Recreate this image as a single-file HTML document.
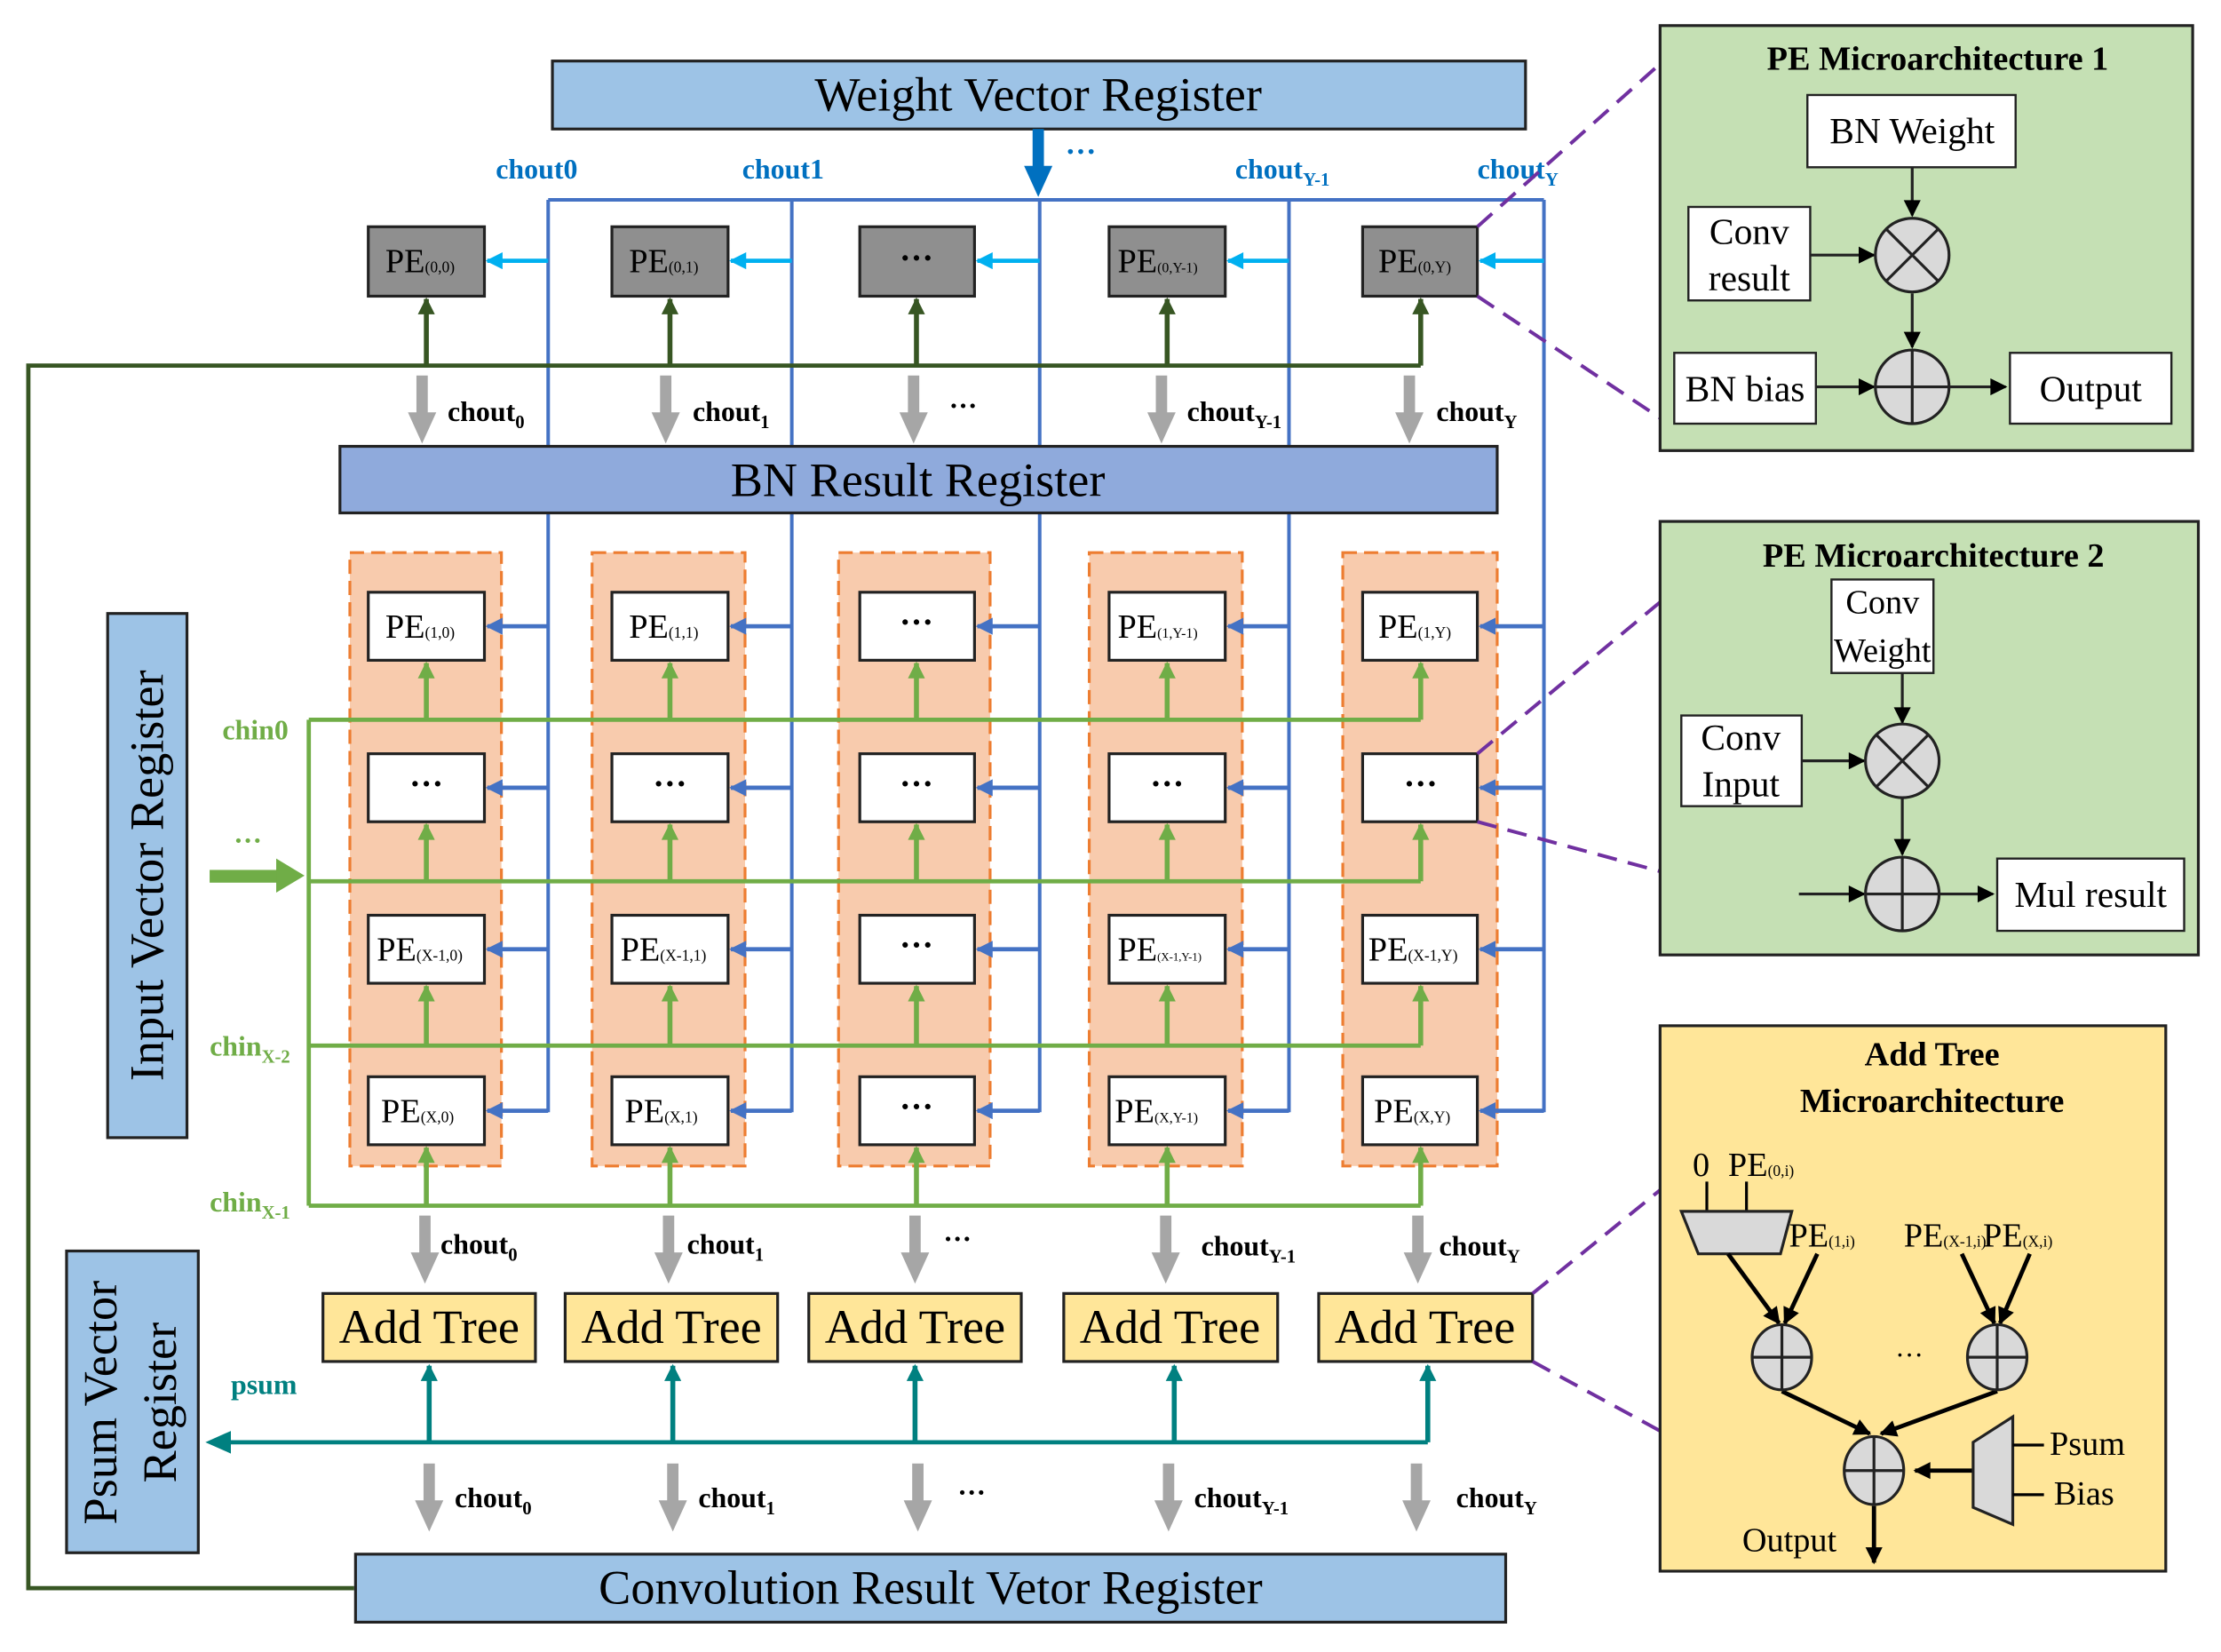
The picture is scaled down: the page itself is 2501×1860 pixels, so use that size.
<!DOCTYPE html>
<html><head><meta charset="utf-8"><style>
html,body{margin:0;padding:0;background:#fff}
svg{display:block}
text{font-family:"Liberation Serif",serif}
</style></head><body>
<svg width="2501" height="1860" viewBox="0 0 1568 1166" xmlns="http://www.w3.org/2000/svg">
<defs>
<marker id="mlb" viewBox="0 0 10 10" refX="9" refY="5" markerWidth="14" markerHeight="12" orient="auto" markerUnits="userSpaceOnUse"><path d="M0,0L10,5L0,10z" fill="#00b0f0"/></marker>
<marker id="mbb" viewBox="0 0 10 10" refX="9" refY="5" markerWidth="14" markerHeight="12" orient="auto" markerUnits="userSpaceOnUse"><path d="M0,0L10,5L0,10z" fill="#4472c4"/></marker>
<marker id="mg" viewBox="0 0 10 10" refX="9" refY="5" markerWidth="14" markerHeight="12" orient="auto" markerUnits="userSpaceOnUse"><path d="M0,0L10,5L0,10z" fill="#70ad47"/></marker>
<marker id="mdg" viewBox="0 0 10 10" refX="9" refY="5" markerWidth="14" markerHeight="12" orient="auto" markerUnits="userSpaceOnUse"><path d="M0,0L10,5L0,10z" fill="#375623"/></marker>
<marker id="mt" viewBox="0 0 10 10" refX="9" refY="5" markerWidth="14" markerHeight="12" orient="auto" markerUnits="userSpaceOnUse"><path d="M0,0L10,5L0,10z" fill="#008080"/></marker>
<marker id="mk" viewBox="0 0 10 10" refX="9" refY="5" markerWidth="14" markerHeight="12" orient="auto" markerUnits="userSpaceOnUse"><path d="M0,0L10,5L0,10z" fill="#000"/></marker>
<g id="gray"><rect x="-4" y="0" width="8" height="28" fill="#a6a6a6"/><path d="M-10,26L10,26L0,48z" fill="#a6a6a6"/></g>
</defs>

<rect x="390" y="43" width="687" height="48" fill="#9dc3e6" stroke="#222" stroke-width="2"/>
<text x="733" y="78" font-size="34" text-anchor="middle">Weight Vector Register</text>
<rect x="729" y="91" width="8" height="28" fill="#0070c0"/><path d="M723,117L743,117L733,139z" fill="#0070c0"/>
<text x="752" y="114" font-size="22" font-weight="bold" fill="#0070c0">···</text>
<g font-size="20" font-weight="bold" fill="#0070c0">
<text x="350" y="126">chout0</text><text x="524" y="126">chout1</text>
<text x="872" y="126">chout<tspan font-size="13" dy="5">Y-1</tspan></text>
<text x="1043" y="126">chout<tspan font-size="13" dy="5">Y</tspan></text>
</g>

<g fill="#f8cbad" stroke="#ed7d31" stroke-width="2" stroke-dasharray="10,5">
<rect x="247" y="390" width="107" height="433"/><rect x="418" y="390" width="108" height="433"/>
<rect x="592" y="390" width="107" height="433"/><rect x="769" y="390" width="108" height="433"/>
<rect x="948" y="390" width="109" height="433"/>
</g>

<g stroke="#4472c4" stroke-width="2.5" fill="none">
<path d="M387,141H1090"/>
<path d="M387,141V785M559,141V785M734,141V785M910,141V785M1090,141V785"/>
</g>
<g stroke="#00b0f0" stroke-width="3" marker-end="url(#mlb)">
<path d="M387,184H344"/><path d="M559,184H516"/><path d="M734,184H690"/><path d="M910,184H867"/><path d="M1090,184H1045"/>
</g>
<g stroke="#4472c4" stroke-width="3" marker-end="url(#mbb)">
<path d="M387,442H344"/><path d="M559,442H516"/><path d="M734,442H690"/><path d="M910,442H867"/><path d="M1090,442H1045"/>
<path d="M387,556H344"/><path d="M559,556H516"/><path d="M734,556H690"/><path d="M910,556H867"/><path d="M1090,556H1045"/>
<path d="M387,670H344"/><path d="M559,670H516"/><path d="M734,670H690"/><path d="M910,670H867"/><path d="M1090,670H1045"/>
<path d="M387,784H344"/><path d="M559,784H516"/><path d="M734,784H690"/><path d="M910,784H867"/><path d="M1090,784H1045"/>
</g>

<g stroke="#375623" stroke-width="3" fill="none">
<path d="M250,1121H20V258H1003"/>
</g>
<g stroke="#375623" stroke-width="3.5" marker-end="url(#mdg)">
<path d="M301,258V211"/><path d="M473,258V211"/><path d="M647,258V211"/><path d="M824,258V211"/><path d="M1003,258V211"/>
</g>

<g fill="#8f8f8f" stroke="#222" stroke-width="2">
<rect x="260" y="160" width="82" height="49"/><rect x="432" y="160" width="82" height="49"/><rect x="607" y="160" width="81" height="49"/><rect x="783" y="160" width="82" height="49"/><rect x="962" y="160" width="81" height="49"/>
</g>
<g font-size="24">
<text x="272" y="192">PE<tspan font-size="11">(0,0)</tspan></text>
<text x="444" y="192">PE<tspan font-size="11">(0,1)</tspan></text>
<text x="647" y="190" text-anchor="middle" font-weight="bold">···</text>
<text x="789" y="192">PE<tspan font-size="10">(0,Y-1)</tspan></text>
<text x="973" y="192">PE<tspan font-size="11">(0,Y)</tspan></text>
</g>

<use href="#gray" x="298" y="265"/><use href="#gray" x="470" y="265"/><use href="#gray" x="645" y="265"/><use href="#gray" x="820" y="265"/><use href="#gray" x="995" y="265"/>
<g font-size="20" font-weight="bold">
<text x="316" y="297">chout<tspan font-size="13" dy="5">0</tspan></text>
<text x="489" y="297">chout<tspan font-size="13" dy="5">1</tspan></text>
<text x="670" y="293">···</text>
<text x="838" y="297">chout<tspan font-size="13" dy="5">Y-1</tspan></text>
<text x="1014" y="297">chout<tspan font-size="13" dy="5">Y</tspan></text>
</g>

<rect x="240" y="315" width="817" height="47" fill="#8faadc" stroke="#222" stroke-width="2"/>
<text x="648" y="350" font-size="34" text-anchor="middle">BN Result Register</text>

<g stroke="#70ad47" stroke-width="3" fill="none">
<path d="M218,508H1003M218,622H1003M218,738H1003M218,851H1003M218,508V851"/>
</g>
<g stroke="#70ad47" stroke-width="3.5" marker-end="url(#mg)">
<path d="M301,508V468"/><path d="M473,508V468"/><path d="M647,508V468"/><path d="M824,508V468"/><path d="M1003,508V468"/>
<path d="M301,622V582"/><path d="M473,622V582"/><path d="M647,622V582"/><path d="M824,622V582"/><path d="M1003,622V582"/>
<path d="M301,738V696"/><path d="M473,738V696"/><path d="M647,738V696"/><path d="M824,738V696"/><path d="M1003,738V696"/>
<path d="M301,851V810"/><path d="M473,851V810"/><path d="M647,851V810"/><path d="M824,851V810"/><path d="M1003,851V810"/>
</g>
<rect x="148" y="614" width="50" height="9" fill="#70ad47"/><path d="M195,606L215,618L195,630z" fill="#70ad47"/>
<text x="165" y="600" font-size="20" font-weight="bold" fill="#70ad47">···</text>
<g font-size="20" font-weight="bold" fill="#70ad47">
<text x="157" y="522">chin0</text>
<text x="148" y="745">chin<tspan font-size="13" dy="5">X-2</tspan></text>
<text x="148" y="855">chin<tspan font-size="13" dy="5">X-1</tspan></text>
</g>

<g fill="#fff" stroke="#222" stroke-width="2">
<rect x="260" y="418" width="82" height="48"/><rect x="432" y="418" width="82" height="48"/><rect x="607" y="418" width="81" height="48"/><rect x="783" y="418" width="82" height="48"/><rect x="962" y="418" width="81" height="48"/>
<rect x="260" y="532" width="82" height="48"/><rect x="432" y="532" width="82" height="48"/><rect x="607" y="532" width="81" height="48"/><rect x="783" y="532" width="82" height="48"/><rect x="962" y="532" width="81" height="48"/>
<rect x="260" y="646" width="82" height="48"/><rect x="432" y="646" width="82" height="48"/><rect x="607" y="646" width="81" height="48"/><rect x="783" y="646" width="82" height="48"/><rect x="962" y="646" width="81" height="48"/>
<rect x="260" y="760" width="82" height="48"/><rect x="432" y="760" width="82" height="48"/><rect x="607" y="760" width="81" height="48"/><rect x="783" y="760" width="82" height="48"/><rect x="962" y="760" width="81" height="48"/>
</g>
<g font-size="24">
<text x="272" y="450">PE<tspan font-size="11">(1,0)</tspan></text>
<text x="444" y="450">PE<tspan font-size="11">(1,1)</tspan></text>
<text x="647" y="447" text-anchor="middle" font-weight="bold">···</text>
<text x="789" y="450">PE<tspan font-size="10">(1,Y-1)</tspan></text>
<text x="973" y="450">PE<tspan font-size="11">(1,Y)</tspan></text>
<text x="301" y="561" text-anchor="middle" font-weight="bold">···</text>
<text x="473" y="561" text-anchor="middle" font-weight="bold">···</text>
<text x="647" y="561" text-anchor="middle" font-weight="bold">···</text>
<text x="824" y="561" text-anchor="middle" font-weight="bold">···</text>
<text x="1003" y="561" text-anchor="middle" font-weight="bold">···</text>
<text x="266" y="678">PE<tspan font-size="11">(X-1,0)</tspan></text>
<text x="438" y="678">PE<tspan font-size="11">(X-1,1)</tspan></text>
<text x="647" y="675" text-anchor="middle" font-weight="bold">···</text>
<text x="789" y="678">PE<tspan font-size="8">(X-1,Y-1)</tspan></text>
<text x="966" y="678">PE<tspan font-size="11">(X-1,Y)</tspan></text>
<text x="269" y="792">PE<tspan font-size="11">(X,0)</tspan></text>
<text x="441" y="792">PE<tspan font-size="11">(X,1)</tspan></text>
<text x="647" y="789" text-anchor="middle" font-weight="bold">···</text>
<text x="787" y="792">PE<tspan font-size="10">(X,Y-1)</tspan></text>
<text x="970" y="792">PE<tspan font-size="11">(X,Y)</tspan></text>
</g>

<rect x="76" y="433" width="56" height="370" fill="#9dc3e6" stroke="#222" stroke-width="2"/>
<text transform="translate(115,618) rotate(-90)" font-size="34" text-anchor="middle">Input Vector Register</text>

<use href="#gray" x="300" y="858"/><use href="#gray" x="472" y="858"/><use href="#gray" x="646" y="858"/><use href="#gray" x="823" y="858"/><use href="#gray" x="1001" y="858"/>
<g font-size="20" font-weight="bold">
<text x="311" y="885">chout<tspan font-size="13" dy="5">0</tspan></text>
<text x="485" y="885">chout<tspan font-size="13" dy="5">1</tspan></text>
<text x="666" y="881">···</text>
<text x="848" y="886">chout<tspan font-size="13" dy="5">Y-1</tspan></text>
<text x="1016" y="886">chout<tspan font-size="13" dy="5">Y</tspan></text>
</g>

<g fill="#ffe699" stroke="#222" stroke-width="2">
<rect x="228" y="913" width="150" height="48"/><rect x="399" y="913" width="150" height="48"/><rect x="571" y="913" width="150" height="48"/><rect x="751" y="913" width="151" height="48"/><rect x="931" y="913" width="151" height="48"/>
</g>
<g font-size="34" text-anchor="middle">
<text x="303" y="948">Add Tree</text><text x="474" y="948">Add Tree</text><text x="646" y="948">Add Tree</text><text x="826" y="948">Add Tree</text><text x="1006" y="948">Add Tree</text>
</g>

<path d="M1008,1018H160" stroke="#008080" stroke-width="3" fill="none"/>
<g stroke="#008080" stroke-width="3.5" marker-end="url(#mt)">
<path d="M303,1018V964"/><path d="M475,1018V964"/><path d="M646,1018V964"/><path d="M829,1018V964"/><path d="M1008,1018V964"/>
</g>
<path d="M145,1018L163,1010L163,1026z" fill="#008080"/>
<text x="163" y="984" font-size="20" font-weight="bold" fill="#008080">psum</text>

<rect x="47" y="883" width="93" height="213" fill="#9dc3e6" stroke="#222" stroke-width="2"/>
<text transform="translate(82,990) rotate(-90)" font-size="34" text-anchor="middle">Psum Vector</text>
<text transform="translate(124,990) rotate(-90)" font-size="34" text-anchor="middle">Register</text>

<use href="#gray" x="303" y="1033"/><use href="#gray" x="475" y="1033"/><use href="#gray" x="648" y="1033"/><use href="#gray" x="825" y="1033"/><use href="#gray" x="1000" y="1033"/>
<g font-size="20" font-weight="bold">
<text x="321" y="1064">chout<tspan font-size="13" dy="5">0</tspan></text>
<text x="493" y="1064">chout<tspan font-size="13" dy="5">1</tspan></text>
<text x="676" y="1060">···</text>
<text x="843" y="1064">chout<tspan font-size="13" dy="5">Y-1</tspan></text>
<text x="1028" y="1064">chout<tspan font-size="13" dy="5">Y</tspan></text>
</g>

<rect x="251" y="1097" width="812" height="48" fill="#9dc3e6" stroke="#222" stroke-width="2"/>
<text x="657" y="1132" font-size="34" text-anchor="middle">Convolution Result Vetor Register</text>

<g stroke="#7030a0" stroke-width="2.5" stroke-dasharray="14,8" fill="none">
<path d="M1043,160L1172,45M1043,209L1172,295"/>
<path d="M1043,532L1172,425M1043,580L1172,615"/>
<path d="M1082,913L1172,840M1082,961L1172,1010"/>
</g>

<rect x="1172" y="18" width="376" height="300" fill="#c5e0b4" stroke="#222" stroke-width="2"/>
<text x="1368" y="49" font-size="24" font-weight="bold" text-anchor="middle">PE Microarchitecture 1</text>
<g fill="#fff" stroke="#222" stroke-width="1.5">
<rect x="1276" y="67" width="147" height="51"/><rect x="1192" y="146" width="86" height="66"/><rect x="1182" y="249" width="100" height="50"/><rect x="1419" y="249" width="114" height="50"/>
</g>
<g font-size="26" text-anchor="middle">
<text x="1350" y="101">BN Weight</text><text x="1235" y="172">Conv</text><text x="1235" y="205">result</text>
<text x="1232" y="283">BN bias</text><text x="1476" y="283">Output</text>
</g>
<g stroke="#222" stroke-width="2" fill="none">
<path d="M1350,118V152" marker-end="url(#mk)"/>
<path d="M1278,180H1323" marker-end="url(#mk)"/>
<path d="M1350,207V245" marker-end="url(#mk)"/>
<path d="M1282,273H1323" marker-end="url(#mk)"/>
<path d="M1376,273H1416" marker-end="url(#mk)"/>
</g>
<g stroke="#222" stroke-width="2" fill="#d9d9d9">
<circle cx="1350" cy="180" r="26"/><circle cx="1350" cy="273" r="26"/>
</g>
<path d="M1332,162L1368,198M1368,162L1332,198M1324,273H1376M1350,247V299" stroke="#222" stroke-width="2"/>

<rect x="1172" y="368" width="380" height="306" fill="#c5e0b4" stroke="#222" stroke-width="2"/>
<text x="1365" y="400" font-size="24" font-weight="bold" text-anchor="middle">PE Microarchitecture 2</text>
<g fill="#fff" stroke="#222" stroke-width="1.5">
<rect x="1293" y="409" width="72" height="66"/><rect x="1187" y="505" width="85" height="64"/><rect x="1410" y="606" width="132" height="51"/>
</g>
<g font-size="26" text-anchor="middle">
<text x="1329" y="433" font-size="24" text-anchor="middle">Conv</text><text x="1329" y="467" font-size="24" text-anchor="middle">Weight</text>
<text x="1229" y="529">Conv</text><text x="1229" y="562">Input</text>
<text x="1476" y="640">Mul result</text>
</g>
<g stroke="#222" stroke-width="2" fill="none">
<path d="M1343,475V510" marker-end="url(#mk)"/>
<path d="M1272,537H1316" marker-end="url(#mk)"/>
<path d="M1343,563V603" marker-end="url(#mk)"/>
<path d="M1270,631H1316" marker-end="url(#mk)"/>
<path d="M1369,631H1407" marker-end="url(#mk)"/>
</g>
<g stroke="#222" stroke-width="2" fill="#d9d9d9">
<circle cx="1343" cy="537" r="26"/><circle cx="1343" cy="631" r="26"/>
</g>
<path d="M1325,519L1361,555M1361,519L1325,555M1317,631H1369M1343,605V657" stroke="#222" stroke-width="2"/>

<rect x="1172" y="724" width="357" height="385" fill="#ffe699" stroke="#222" stroke-width="2"/>
<text x="1364" y="752" font-size="24" font-weight="bold" text-anchor="middle">Add Tree</text>
<text x="1364" y="785" font-size="24" font-weight="bold" text-anchor="middle">Microarchitecture</text>
<g font-size="24">
<text x="1195" y="830">0</text><text x="1220" y="830">PE<tspan font-size="11">(0,i)</tspan></text>
<text x="1263" y="880">PE<tspan font-size="11">(1,i)</tspan></text>
<text x="1344" y="880">PE<tspan font-size="11">(X-1,i)</tspan></text>
<text x="1400" y="880">PE<tspan font-size="11">(X,i)</tspan></text>
<text x="1447" y="1027">Psum</text><text x="1450" y="1062">Bias</text>
<text x="1230" y="1095">Output</text>
</g>
<text x="1338" y="963" font-size="20">···</text>
<path d="M1205,834V855M1233,834V855" stroke="#000" stroke-width="2"/>
<path d="M1187,855L1265,855L1257,885L1199,885z" fill="#d9d9d9" stroke="#222" stroke-width="2"/>
<g stroke="#000" stroke-width="3" fill="none">
<path d="M1220,885L1256,934" marker-end="url(#mk)"/>
<path d="M1283,885L1260,934" marker-end="url(#mk)"/>
<path d="M1385,885L1408,934" marker-end="url(#mk)"/>
<path d="M1433,885L1412,934" marker-end="url(#mk)"/>
<path d="M1258,982L1320,1012" marker-end="url(#mk)"/>
<path d="M1410,982L1328,1012" marker-end="url(#mk)"/>
<path d="M1393,1038H1352" marker-end="url(#mk)"/>
<path d="M1323,1063V1103" marker-end="url(#mk)"/>
</g>
<g stroke="#222" stroke-width="2" fill="#d9d9d9">
<ellipse cx="1258" cy="958" rx="21" ry="23"/><ellipse cx="1410" cy="958" rx="21" ry="23"/><ellipse cx="1323" cy="1038" rx="21" ry="24"/>
</g>
<path d="M1237,958H1279M1258,935V981M1389,958H1431M1410,935V981M1302,1038H1344M1323,1014V1062" stroke="#222" stroke-width="2"/>
<path d="M1393,1018L1421,1000L1421,1076L1393,1064z" fill="#d9d9d9" stroke="#222" stroke-width="2"/>
<path d="M1421,1020H1443M1421,1055H1443" stroke="#000" stroke-width="2"/>
</svg>
</body></html>
